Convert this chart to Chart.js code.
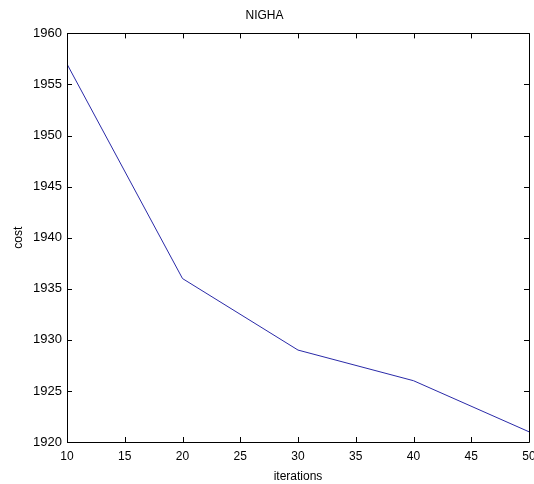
<!DOCTYPE html>
<html>
<head>
<meta charset="utf-8">
<script src="https://cdn.jsdelivr.net/npm/chart.js@4"></script>
<style>
  html, body { margin: 0; padding: 0; background: #fff; }
  #wrap { width: 534px; height: 484px; }
</style>
</head>
<body>
<div id="wrap"><canvas id="chart" width="534" height="484"></canvas></div>
<script>
const iterations = [10, 20, 30, 40, 50];
const cost = [1957, 1936, 1929, 1926, 1921];
const xTicks = [10, 15, 20, 25, 30, 35, 40, 45, 50];
const yTicks = [1920, 1925, 1930, 1935, 1940, 1945, 1950, 1955, 1960];

const FONT = { family: "'Liberation Sans', Arial, sans-serif", size: 12 };

// box round the axes with short inward ticks on all four sides
const boxPlugin = {
  id: "box",
  afterDraw(chart) {
    const ctx = chart.ctx, a = chart.chartArea;
    const xs = chart.scales.x, ys = chart.scales.y;
    ctx.save();
    ctx.strokeStyle = "#000";
    ctx.lineWidth = 1;
    ctx.beginPath();
    ctx.rect(Math.round(a.left) + 0.5, Math.round(a.top) + 0.5,
             Math.round(a.right - a.left), Math.round(a.bottom - a.top));
    xTicks.forEach(v => {
      const px = Math.round(xs.getPixelForValue(v)) + 0.5;
      ctx.moveTo(px, a.bottom); ctx.lineTo(px, a.bottom - 5);
      ctx.moveTo(px, a.top); ctx.lineTo(px, a.top + 5);
    });
    yTicks.forEach(v => {
      const py = Math.round(ys.getPixelForValue(v)) + 0.5;
      ctx.moveTo(a.left, py); ctx.lineTo(a.left + 5, py);
      ctx.moveTo(a.right, py); ctx.lineTo(a.right - 5, py);
    });
    ctx.stroke();
    ctx.restore();
  }
};

new Chart(document.getElementById("chart"), {
  type: "line",
  data: {
    datasets: [{
      data: iterations.map((x, i) => ({ x, y: cost[i] })),
      borderColor: "#2a2aa8",
      borderWidth: 1,
      pointRadius: 0,
      tension: 0
    }]
  },
  options: {
    responsive: false,
    animation: false,
    layout: { padding: { left: 0, right: 5, top: 0, bottom: 0 } },
    plugins: {
      legend: { display: false },
      tooltip: { enabled: false },
      title: {
        display: true, text: "NIGHA", color: "#000",
        font: { ...FONT, weight: "normal" },
        padding: { top: 8, bottom: 11 }
      }
    },
    scales: {
      x: {
        type: "linear", min: 10, max: 50,
        afterBuildTicks: s => { s.ticks = xTicks.map(v => ({ value: v })); },
        afterFit: s => { s.height = 42; s.paddingLeft = 0; s.paddingRight = 0; },
        grid: { display: false, drawTicks: false },
        border: { display: false },
        ticks: { color: "#000", font: FONT, padding: 7, maxRotation: 0, autoSkip: false },
        title: { display: true, text: "iterations", color: "#000", font: FONT, padding: { top: 2, bottom: 0 } }
      },
      y: {
        type: "linear", min: 1920, max: 1960,
        afterBuildTicks: s => { s.ticks = yTicks.map(v => ({ value: v })); },
        afterFit: s => { s.width = 67; s.paddingTop = 0; s.paddingBottom = 0; },
        grid: { display: false, drawTicks: false },
        border: { display: false },
        ticks: { color: "#000", font: { ...FONT, size: 13 }, padding: 5, autoSkip: false, callback: v => String(v) },
        title: { display: true, text: "cost", color: "#000", font: FONT, padding: { top: 11, bottom: 0 } }
      }
    }
  },
  plugins: [boxPlugin]
});
</script>
</body>
</html>
